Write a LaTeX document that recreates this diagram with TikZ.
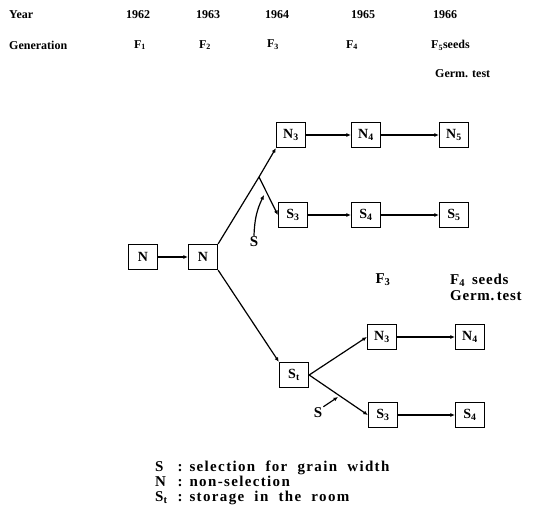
\documentclass[tikz,border=0pt]{standalone}
\usepackage{fontspec}
\setmainfont{Liberation Serif}
\usepackage{tikz}
\usetikzlibrary{arrows.meta,positioning}

\begin{document}
\begin{tikzpicture}[
  x=1pt, y=-1pt,
  every node/.style={font=\fontsize{12}{13}\selectfont\bfseries, inner sep=1pt},
  gen/.style={draw, line width=1.3pt, minimum width=29pt, minimum height=25pt,
             inner sep=2pt, font=\fontsize{14}{15}\selectfont\bfseries},
  head/.style={anchor=west},
  big/.style={font=\fontsize{15}{16}\selectfont\bfseries\addfontfeatures{LetterSpace=5}},
  line/.style={line width=1.2pt},
  arr/.style={line width=1.2pt, -{Latex[length=4.5pt,width=4pt]}},
]
\useasboundingbox (0,0) rectangle (541,522);

% Header rows
\node[head] (year) at (8,15) {Year};
\node (y62) at (138,15) {1962};
\node (y63) at (208,15) {1963};
\node (y64) at (277,15) {1964};
\node (y65) at (363,15) {1965};
\node (y66) at (445,15) {1966};

\node[head] (gentxt) at (8,45) {Generation};
\node (f1) at (140,45) {F\textsubscript{1}};
\node (f2) at (205,45) {F\textsubscript{2}};
\node (f3) at (273,45) {F\textsubscript{3}};
\node (f4) at (352,45) {F\textsubscript{4}};
\node[head] (f5) at (430,45) {F\textsubscript{5}seeds};
\node[head] (germ) at (434,74) {Germ. test};

% Boxes
\node[gen] (n) at (143,257) {N};
\node[gen] (n2) at (203,257) {N};
\node[gen] (n3) at (291,135) {N\textsubscript{3}};
\node[gen] (n4) at (366,135) {N\textsubscript{4}};
\node[gen] (n5) at (454,135) {N\textsubscript{5}};
\node[gen] (s3) at (293,215) {S\textsubscript{3}};
\node[gen] (s4) at (366,215) {S\textsubscript{4}};
\node[gen] (s5) at (454,215) {S\textsubscript{5}};
\node[gen] (st) at (294,375) {S\textsubscript{t}};
\node[gen] (bn3) at (382,337) {N\textsubscript{3}};
\node[gen] (bn4) at (470,337) {N\textsubscript{4}};
\node[gen] (bs3) at (383,415) {S\textsubscript{3}};
\node[gen] (bs4) at (470,415) {S\textsubscript{4}};

% Lower branch labels
\node[big] (lf3) at (383,280) {F\textsubscript{3}};
\node[big, anchor=west, align=left] (lf4) at (449,287)
  {F\textsubscript{4}\hspace{7pt}seeds\\Germ.\,test};

% Arrows
\coordinate (br) at (259,177);
\draw[arr] (n) -- (n2);
\draw[line] (n2.north east) -- (br);
\draw[arr] (br) -- (n3.south west);
\draw[arr] (br) -- (s3.west);
\draw[arr] (n3) -- (n4);
\draw[arr] (n4) -- (n5);
\draw[arr] (s3) -- (s4);
\draw[arr] (s4) -- (s5);
\draw[arr] (n2.south east) -- (st.north west);
\draw[arr] (st.east) -- (bn3.west);
\draw[arr] (st.east) -- (bs3.west);
\draw[arr] (bn3) -- (bn4);
\draw[arr] (bs3) -- (bs4);

% Selection marks
\node[font=\fontsize{15}{15}\selectfont\bfseries] (sel1) at (254,242) {S};
\coordinate (sel1tip) at (264,195);
\draw[arr] (sel1.north) to[bend left=12] (sel1tip);
\node[font=\fontsize{15}{15}\selectfont\bfseries] (sel2) at (318,413) {S};
\coordinate (sel2tip) at (338,397);
\draw[arr] (sel2.north east) -- (sel2tip);

% Legend
\node[anchor=north west, inner sep=0pt,
      font=\fontsize{15}{15}\selectfont\bfseries\addfontfeatures{LetterSpace=9}] (legend) at (155,461)
  {\begin{tabular}{@{}l@{\ \ }l@{}}
   S & : selection\ \ for\ \ grain\ \ width\\
   N & : non-selection\\
   S\textsubscript{t} & : storage\ \ in\ \ the\ \ room
   \end{tabular}};

\end{tikzpicture}
\end{document}
